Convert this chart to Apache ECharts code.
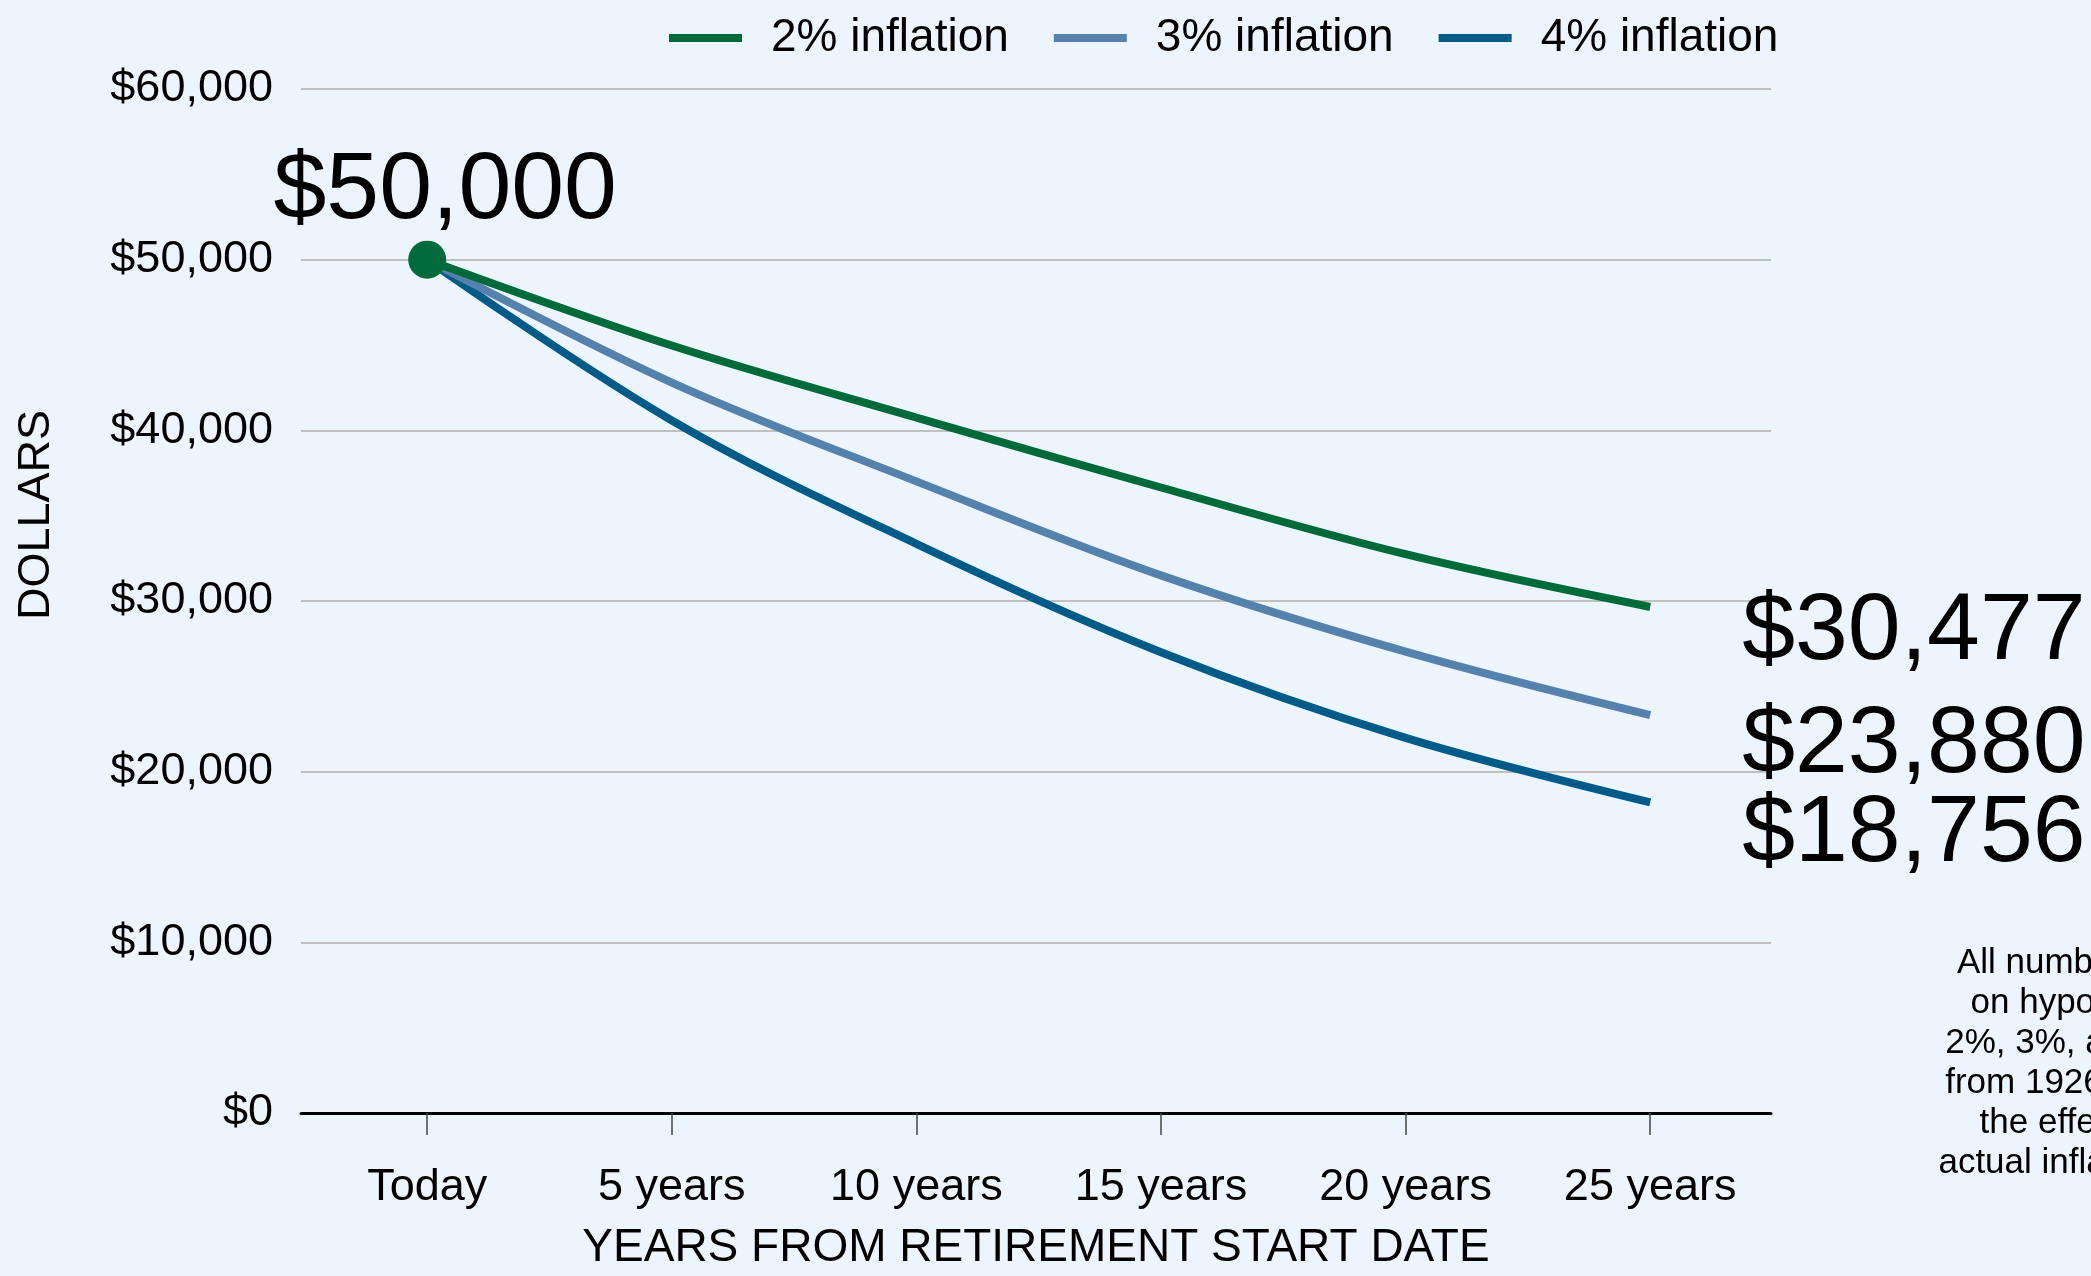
<!DOCTYPE html>
<html>
<head>
<meta charset="utf-8">
<script src="https://cdn.jsdelivr.net/npm/echarts@6/dist/echarts.min.js"></script>
<style>
html,body{margin:0;padding:0;background:#ECF5FE;overflow:hidden;}
#chart{width:2091px;height:1276px;}
</style>
</head>
<body>
<div id="chart"></div>
<script>
var years = [0, 5, 10, 15, 20, 25];
var xTickLabels = ['Today', '5 years', '10 years', '15 years', '20 years', '25 years'];
var yTicks = [0, 10000, 20000, 30000, 40000, 50000, 60000];
var seriesNames = ['2% inflation', '3% inflation', '4% inflation'];
var infl2 = [50000, 44970, 40750, 36650, 32740, 29650];
var infl3 = [50000, 42800, 37010, 31500, 27030, 23310];
var infl4 = [50000, 40580, 33350, 27000, 21980, 18200];
var endValues = [30477, 23880, 18756];
var startValue = 50000;
var noteLines = ['All numbers are based', 'on hypothetical rates', '2%, 3%, and 4% annual', 'from 1926 through 2023', 'the effect of varying', 'actual inflation over time.'];

var FONT = '"Liberation Sans", Arial, sans-serif';
var colors = ['#006A3A', '#5581AD', '#005B88'];

function money(v) { return '$' + v.toLocaleString('en-US'); }
function pairs(vals) { return years.map(function (y, i) { return [y, vals[i]]; }); }

var chart = echarts.init(document.getElementById('chart'));
var seriesVals = [infl2, infl3, infl4];
var endOffsets = [[0, 26], [0, 31], [0, 32]];

var series = seriesVals.map(function (vals, i) {
  return {
    name: seriesNames[i],
    type: 'line',
    data: pairs(vals),
    smooth: 0.35,
    symbol: 'none',
    z: 10 - i,
    lineStyle: { color: colors[i], width: 8, cap: 'butt' },
    itemStyle: { color: colors[i] },
    endLabel: {
      show: true,
      formatter: function () { return money(endValues[i]); },
      fontSize: 95,
      fontFamily: FONT,
      color: '#000',
      distance: 92,
      offset: endOffsets[i]
    }
  };
});

series.push({
  type: 'scatter',
  data: [[years[0], startValue]],
  symbol: 'circle',
  symbolSize: 38,
  z: 20,
  itemStyle: { color: colors[0], opacity: 1 },
  label: {
    show: true,
    position: 'top',
    distance: 1,
    offset: [18, 0],
    opacity: 1,
    formatter: function (p) { return money(p.value[1]); },
    fontSize: 95,
    fontFamily: FONT,
    color: '#000'
  }
});

chart.setOption({
  backgroundColor: '#ECF5FE',
  animation: false,
  textStyle: { fontFamily: FONT },
  legend: {
    data: seriesNames,
    left: 664,
    top: 10,
    icon: 'rect',
    itemWidth: 73,
    itemHeight: 8,
    itemGap: 45,
    textStyle: { fontSize: 46, color: '#000', fontFamily: FONT, padding: [0, 0, 0, 24] }
  },
  grid: { left: 301, right: 320, top: 89, bottom: 155, containLabel: false },
  xAxis: {
    type: 'value',
    min: -2.58,
    max: 27.47,
    name: 'YEARS FROM RETIREMENT START DATE',
    nameLocation: 'middle',
    nameGap: 112,
    nameTextStyle: { fontSize: 46, color: '#000', fontFamily: FONT },
    axisLine: { show: true, lineStyle: { color: '#000', width: 3 } },
    axisTick: { show: true, customValues: years, length: 22, lineStyle: { color: '#444', width: 1.5 } },
    axisLabel: {
      customValues: years,
      margin: 52,
      fontSize: 45,
      color: '#000',
      fontFamily: FONT,
      formatter: function (v) { var i = years.indexOf(v); return i >= 0 ? xTickLabels[i] : ''; }
    },
    splitLine: { show: false }
  },
  yAxis: {
    type: 'value',
    min: yTicks[0],
    max: yTicks[yTicks.length - 1],
    interval: 10000,
    axisLine: { show: false },
    axisTick: { show: false },
    axisLabel: {
      margin: 28,
      fontSize: 45,
      color: '#000',
      fontFamily: FONT,
      formatter: function (v) { return money(v); }
    },
    splitLine: { show: true, lineStyle: { color: '#C0C0C0', width: 2 } }
  },
  graphic: [
    {
      type: 'text',
      x: 37,
      y: 515,
      rotation: Math.PI / 2,
      style: { text: 'DOLLARS', font: '45px ' + FONT, fill: '#000', align: 'center', verticalAlign: 'middle' }
    },
    {
      type: 'text',
      x: 2132,
      y: 943,
      style: { text: noteLines.join('\n'), font: '35px ' + FONT, fill: '#000', align: 'center', verticalAlign: 'top', lineHeight: 40 }
    }
  ],
  series: series
});
</script>
</body>
</html>
